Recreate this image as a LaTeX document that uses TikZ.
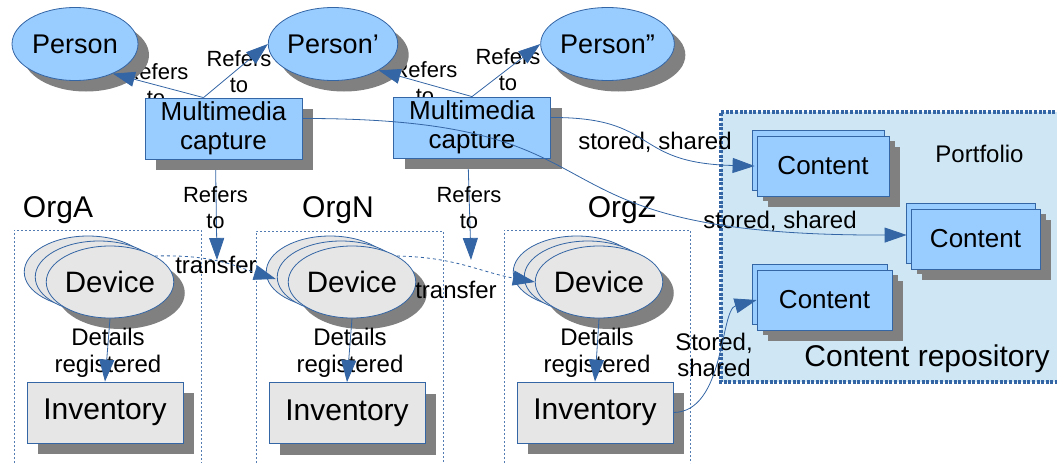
\documentclass[tikz,border=0pt]{standalone}
\usepackage{fontspec}
\setmainfont{Liberation Sans}
\usetikzlibrary{shapes.geometric,arrows.meta,shadows,calc}
\definecolor{lb}{HTML}{99CCFF}
\definecolor{eb}{HTML}{3465A4}
\definecolor{dg}{HTML}{E6E6E6}
\definecolor{sg}{HTML}{808080}
\definecolor{rb}{HTML}{CFE7F5}
\pgfdeclarelayer{back}
\pgfdeclarelayer{under}
\pgfdeclarelayer{front}
\pgfsetlayers{back,under,main,front}
\begin{document}
\begin{tikzpicture}[x=1pt,y=-1pt,
  shd/.style={drop shadow={shadow xshift=11pt,shadow yshift=-11pt,fill=sg,opacity=1}},
  person/.style={ellipse,draw=eb,line width=0.8pt,fill=lb,shd,minimum width=126pt,minimum height=73pt,inner sep=0pt,font=\fontsize{27}{30}\selectfont},
  mcbox/.style={rectangle,draw=eb,line width=0.8pt,fill=lb,shd,minimum width=157pt,minimum height=61pt,inner sep=0pt,align=center,font=\fontsize{26}{29}\selectfont},
  devbox/.style={ellipse,draw=eb,line width=0.8pt,fill=dg,minimum width=126pt,minimum height=72pt,inner sep=0pt,
    shd,
    general shadow={shadow xshift=-22pt,shadow yshift=10pt,fill=dg,draw=eb,line width=0.8pt,opacity=1},
    general shadow={shadow xshift=-11pt,shadow yshift=5pt,fill=dg,draw=eb,line width=0.8pt,opacity=1},
    font=\fontsize{29.5}{32}\selectfont},
  invbox/.style={rectangle,draw=eb,line width=0.8pt,fill=dg,shd,minimum width=156pt,minimum height=61pt,inner sep=0pt,font=\fontsize{30}{33}\selectfont},
  cbox/.style={rectangle,draw=eb,line width=0.8pt,fill=lb,minimum height=60pt,inner sep=0pt,
    general shadow={shadow xshift=6pt,shadow yshift=-5pt,fill=sg,opacity=1},
    shd,
    general shadow={shadow xshift=-5pt,shadow yshift=6pt,fill=lb,draw=eb,line width=0.8pt,opacity=1},
    font=\fontsize{26}{29}\selectfont},
  conn/.style={draw=eb,line width=0.8pt,-{Triangle[length=22pt,width=15pt]}},
  lblr/.style={inner sep=0pt,align=center,font=\fontsize{22}{26}\selectfont},
  lblm/.style={inner sep=0pt,align=center,font=\fontsize{24}{26.5}\selectfont},
  lblb/.style={inner sep=0pt,font=\fontsize{30}{33}\selectfont},
  orgframe/.style={draw=eb!85,line width=0.8pt,dash pattern=on 2pt off 2pt},
  repoframe/.style={draw=eb,line width=3.5pt,dash pattern=on 3pt off 1.6pt}
]
\useasboundingbox (0,0) rectangle (1057,463);

% persons
\node[person] (p1) at (75,44) {Person};
\node[person] (p2) at (333,44) {Person’};
\node[person] (p3) at (607.5,44) {Person”};

% multimedia capture
\node[mcbox] (mc1) at (223.5,128.5) {Multimedia\\capture};
\node[mcbox] (mc2) at (472,127.5) {Multimedia\\capture};

% devices and inventories
\node[devbox] (devA) at (110,282) {Device};
\node[devbox] (devN) at (352,282) {Device};
\node[devbox] (devZ) at (599,282) {Device};
\node[invbox] (invA) at (105,412.5) {Inventory};
\node[invbox] (invN) at (347,413) {Inventory};
\node[invbox] (invZ) at (595,412.5) {Inventory};

% contents
\node[cbox,minimum width=132pt] (c1) at (823,166) {Content};
\node[cbox,minimum width=129pt] (c2) at (975.5,239) {Content};
\node[cbox,minimum width=135pt] (c3) at (824.5,300) {Content};

% repository labels
\node[lblm,anchor=base] (portfolio) at (979.5,162) {Portfolio};
\node[lblb,anchor=base] (repolbl) at (927,366) {Content repository};

% org labels
\node[lblb,anchor=base] (orgA) at (58,217) {OrgA};
\node[lblb,anchor=base] (orgN) at (338,217) {OrgN};
\node[lblb,anchor=base] (orgZ) at (622,217) {OrgZ};

\coordinate (r1) at (217,260);
\coordinate (r2) at (471,260);

\begin{pgfonlayer}{back}
  \node[fill=rb,inner sep=0pt,minimum width=336pt,minimum height=270pt] (repo) at (889,247) {};
  \draw[repoframe] (1060,112) -- (721,112) -- (721,382) -- (1060,382);
  \draw[orgframe] (14,463) -- (14,230) -- (201,230) -- (201,463);
  \draw[orgframe] (256,463) -- (256,231) -- (443,231) -- (443,463);
  \draw[orgframe] (504,463) -- (504,230) -- (690,230) -- (690,463);
\end{pgfonlayer}

\begin{pgfonlayer}{under}
  \node[lblr] (l1) at (156,85) {Refers\\to};
  \node[lblr] (l2) at (239,72) {Refers\\to};
  \node[lblr] (l3) at (425,83) {Refers\\to};
  \node[lblr] (l4) at (508,70) {Refers\\to};
  \draw[conn] ([xshift=-8pt]mc1.south) -- (r1);
  \draw[conn] ([xshift=-4pt]mc2.south) -- (r2);
\end{pgfonlayer}

\begin{pgfonlayer}{front}
  \node[lblr] (r1l) at (215.5,208) {Refers\\to};
  \node[lblr] (r2l) at (469,208) {Refers\\to};
  \node[lblm] (dA) at (108,353) {Details\\registered};
  \node[lblm] (dN) at (350,353) {Details\\registered};
  \node[lblm] (dZ) at (597,353) {Details\\registered};
  \node[lblm,anchor=base] (t1) at (216,273) {transfer};
  \node[lblm,anchor=base] (t2) at (456,298) {transfer};
  \node[lblm,anchor=base] (s1) at (655,149) {stored, shared};
  \node[lblm,anchor=base] (s2) at (780,228) {stored, shared};
  \node[lblm] (s3) at (714,355) {Stored,\\shared};

  \draw[conn] ([xshift=-20pt]mc1.north) -- (p1.-38);
  \draw[conn] ([xshift=-20pt]mc1.north) -- (p2.west);
  \draw[conn] (mc2.north) -- (p2.-30);
  \draw[conn] (mc2.north) -- (p3.west);

  \draw[conn] ([yshift=10pt]mc1.east) .. controls (650,118) and (500,236) .. ([xshift=-4pt,yshift=4pt]c2.west);
  \draw[conn] ([yshift=10pt]mc2.east) .. controls (660,117) and (630,163) .. ([xshift=-2pt]c1.west);
  \draw[conn] (invZ.east) .. controls (725,412) and (720,310) .. (c3.west);

  \draw[conn] (devA.south) -- (invA.north);
  \draw[conn] (devN.south) -- (invN.north);
  \draw[conn] (devZ.south) -- (invZ.north);

  \draw[conn,dashed] (devA.30) .. controls (215,254) and (240,268) .. ([xshift=-12pt,yshift=3pt]devN.west);
  \draw[conn,dashed] (devN.30) .. controls (455,257) and (480,272) .. (devZ.west);
\end{pgfonlayer}
\end{tikzpicture}
\end{document}
